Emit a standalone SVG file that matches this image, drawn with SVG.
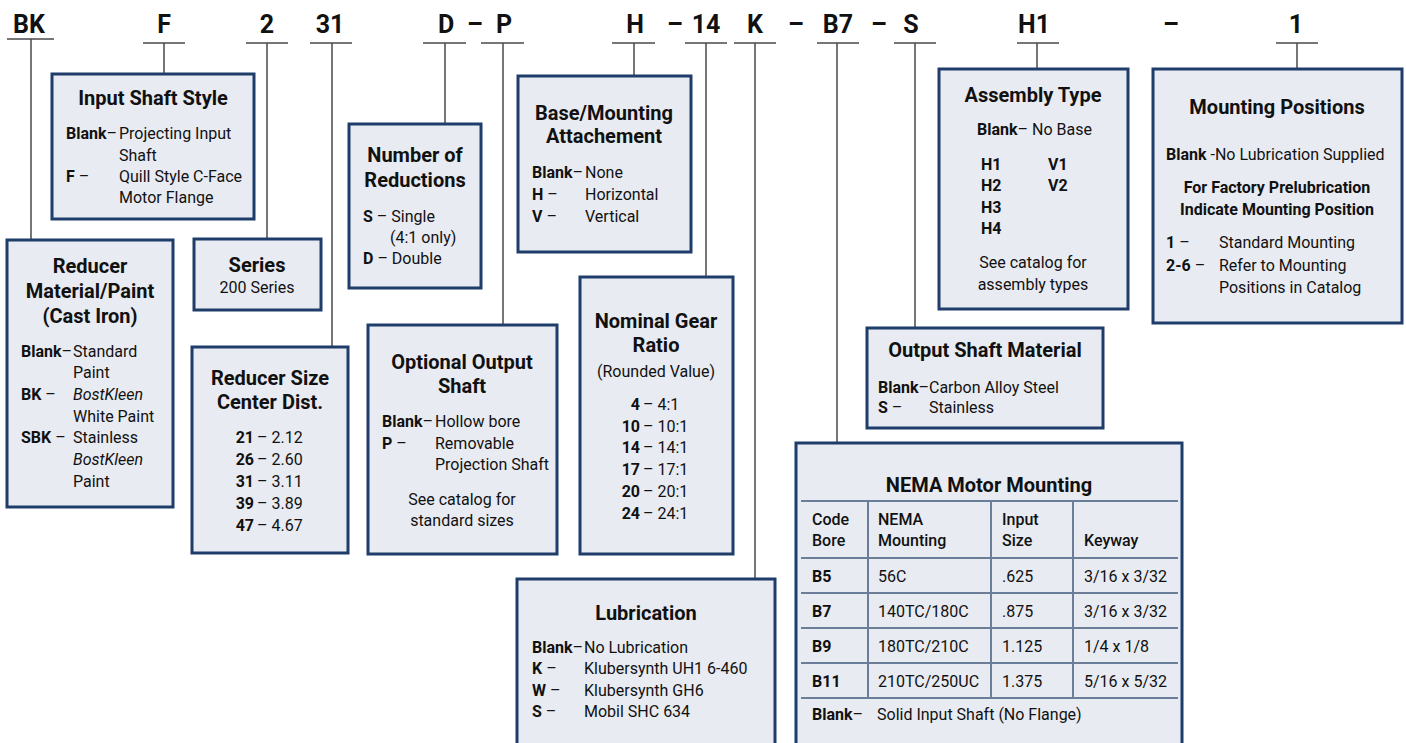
<svg xmlns="http://www.w3.org/2000/svg" width="1406" height="743" viewBox="0 0 1406 743">
<style>
.box{fill:#e8ebf1;stroke:#1f3d6b;stroke-width:3}
.ln{stroke:#4a4a4a;stroke-width:1.5;fill:none}
.grid{stroke:#6a7d99;stroke-width:2;fill:none}
text{font-family:Roboto,"Liberation Sans",sans-serif;fill:#111}
.h{font-size:25px;font-weight:bold;text-anchor:middle}
.ti{font-size:20px;font-weight:bold;text-anchor:middle}
.it{font-size:16px}
.b{font-weight:bold}
.m{font-weight:500}
.c{text-anchor:middle}
.e{text-anchor:end}
.i{font-style:italic}
</style>
<rect width="1406" height="743" fill="#fff"/>
<g id="code">
<text class="h" x="29" y="33">BK</text>
<text class="h" x="164" y="33">F</text>
<text class="h" x="267" y="33">2</text>
<text class="h" x="330" y="33">31</text>
<text class="h" x="446" y="33">D</text>
<text class="h" x="475" y="33">–</text>
<text class="h" x="504" y="33">P</text>
<text class="h" x="635" y="33">H</text>
<text class="h" x="675" y="33">–</text>
<text class="h" x="706" y="33">14</text>
<text class="h" x="755" y="33">K</text>
<text class="h" x="796" y="33">–</text>
<text class="h" x="838" y="33">B7</text>
<text class="h" x="879" y="33">–</text>
<text class="h" x="911" y="33">S</text>
<text class="h" x="1034" y="33">H1</text>
<text class="h" x="1171" y="33">–</text>
<text class="h" x="1296" y="33">1</text>
<path class="ln" d="M7 39H54M143 43H185M246 43H288M310 43H352M423 43H466M481 43H524M612 43H655M685 43H727M734 43H776M817 43H859M894 43H936M1017 43H1059M1276 43H1318"/>
</g>
<g id="connectors">
<path class="ln" d="M31 39V240M164 43V74M267 43V239M332 43V347M445 43V124M503 43V325M634 43V76M706 43V277M755 43V579M837 43V443M915 43V328M1037 43V69M1297 43V69"/>
</g>
<g id="input-shaft-style">
<rect class="box" x="52" y="74" width="202" height="145"/>
<text class="ti" x="153" y="105">Input Shaft Style</text>
<text class="it" x="66" y="139"><tspan class="b">Blank</tspan>–</text>
<text class="it" x="119" y="139">Projecting Input</text>
<text class="it" x="119" y="161">Shaft</text>
<text class="it" x="66" y="182"><tspan class="b">F</tspan> –</text>
<text class="it" x="119" y="182">Quill Style C-Face</text>
<text class="it" x="119" y="203">Motor Flange</text>
</g>
<g id="reducer-material">
<rect class="box" x="7" y="240" width="166" height="267"/>
<text class="ti" x="90" y="273">Reducer</text>
<text class="ti" x="90" y="298">Material/Paint</text>
<text class="ti" x="90" y="323">(Cast Iron)</text>
<text class="it" x="21" y="357"><tspan class="b">Blank</tspan>–</text>
<text class="it" x="73" y="357">Standard</text>
<text class="it" x="73" y="378">Paint</text>
<text class="it" x="21" y="400"><tspan class="b">BK</tspan> –</text>
<text class="it i" x="73" y="400">BostKleen</text>
<text class="it" x="73" y="422">White Paint</text>
<text class="it" x="21" y="443"><tspan class="b">SBK</tspan> –</text>
<text class="it" x="73" y="443">Stainless</text>
<text class="it i" x="73" y="465">BostKleen</text>
<text class="it" x="73" y="487">Paint</text>
</g>
<g id="series">
<rect class="box" x="194" y="239" width="127" height="71"/>
<text class="ti" x="257" y="272">Series</text>
<text class="it c" x="257" y="293">200 Series</text>
</g>
<g id="reducer-size">
<rect class="box" x="192" y="347" width="156" height="206"/>
<text class="ti" x="270" y="385">Reducer Size</text>
<text class="ti" x="270" y="409">Center Dist.</text>
<text class="it b e" x="254" y="443">21</text><text class="it" x="257" y="443">– 2.12</text>
<text class="it b e" x="254" y="465">26</text><text class="it" x="257" y="465">– 2.60</text>
<text class="it b e" x="254" y="487">31</text><text class="it" x="257" y="487">– 3.11</text>
<text class="it b e" x="254" y="509">39</text><text class="it" x="257" y="509">– 3.89</text>
<text class="it b e" x="254" y="531">47</text><text class="it" x="257" y="531">– 4.67</text>
</g>
<g id="number-of-reductions">
<rect class="box" x="349" y="124" width="132" height="164"/>
<text class="ti" x="415" y="162">Number of</text>
<text class="ti" x="415" y="187">Reductions</text>
<text class="it" x="363" y="222"><tspan class="b">S</tspan> – Single</text>
<text class="it" x="390" y="243">(4:1 only)</text>
<text class="it" x="363" y="264"><tspan class="b">D</tspan> – Double</text>
</g>
<g id="base-mounting">
<rect class="box" x="518" y="76" width="173" height="176"/>
<text class="ti" x="604" y="120">Base/Mounting</text>
<text class="ti" x="604" y="143">Attachement</text>
<text class="it" x="532" y="178"><tspan class="b">Blank</tspan>–</text>
<text class="it" x="585" y="178">None</text>
<text class="it" x="532" y="200"><tspan class="b">H</tspan> –</text>
<text class="it" x="585" y="200">Horizontal</text>
<text class="it" x="532" y="222"><tspan class="b">V</tspan> –</text>
<text class="it" x="585" y="222">Vertical</text>
</g>
<g id="optional-output-shaft">
<rect class="box" x="368" y="325" width="189" height="229"/>
<text class="ti" x="462" y="369">Optional Output</text>
<text class="ti" x="462" y="393">Shaft</text>
<text class="it" x="382" y="427"><tspan class="b">Blank</tspan>–</text>
<text class="it" x="435" y="427">Hollow bore</text>
<text class="it" x="382" y="449"><tspan class="b">P</tspan> –</text>
<text class="it" x="435" y="449">Removable</text>
<text class="it" x="435" y="470">Projection Shaft</text>
<text class="it c" x="462" y="505">See catalog for</text>
<text class="it c" x="462" y="526">standard sizes</text>
</g>
<g id="nominal-gear-ratio">
<rect class="box" x="580" y="277" width="153" height="277"/>
<text class="ti" x="656" y="328">Nominal Gear</text>
<text class="ti" x="656" y="352">Ratio</text>
<text class="it c" x="656" y="377">(Rounded Value)</text>
<text class="it b e" x="640" y="410">4</text><text class="it" x="643" y="410">– 4:1</text>
<text class="it b e" x="640" y="432">10</text><text class="it" x="643" y="432">– 10:1</text>
<text class="it b e" x="640" y="453">14</text><text class="it" x="643" y="453">– 14:1</text>
<text class="it b e" x="640" y="475">17</text><text class="it" x="643" y="475">– 17:1</text>
<text class="it b e" x="640" y="497">20</text><text class="it" x="643" y="497">– 20:1</text>
<text class="it b e" x="640" y="519">24</text><text class="it" x="643" y="519">– 24:1</text>
</g>
<g id="lubrication">
<rect class="box" x="517" y="579" width="258" height="172"/>
<text class="ti" x="646" y="620">Lubrication</text>
<text class="it" x="532" y="653"><tspan class="b">Blank</tspan>–</text>
<text class="it" x="584" y="653">No Lubrication</text>
<text class="it" x="532" y="674"><tspan class="b">K</tspan> –</text>
<text class="it" x="584" y="674">Klubersynth UH1 6-460</text>
<text class="it" x="532" y="696"><tspan class="b">W</tspan> –</text>
<text class="it" x="584" y="696">Klubersynth GH6</text>
<text class="it" x="532" y="717"><tspan class="b">S</tspan> –</text>
<text class="it" x="584" y="717">Mobil SHC 634</text>
</g>
<g id="nema-motor-mounting">
<rect class="box" x="796" y="443" width="386" height="308"/>
<text class="ti" x="989" y="492">NEMA Motor Mounting</text>
<path class="grid" d="M801 501H1178M801 558H1178M801 593H1178M801 628H1178M801 663H1178M801 698H1178M868 501V698M991 501V698M1073 501V698"/>
<text class="it m" x="812" y="525">Code</text>
<text class="it m" x="812" y="546">Bore</text>
<text class="it m" x="878" y="525">NEMA</text>
<text class="it m" x="878" y="546">Mounting</text>
<text class="it m" x="1002" y="525">Input</text>
<text class="it m" x="1002" y="546">Size</text>
<text class="it m" x="1084" y="546">Keyway</text>
<text class="it b" x="812" y="582">B5</text><text class="it" x="878" y="582">56C</text><text class="it" x="1002" y="582">.625</text><text class="it" x="1084" y="582">3/16 x 3/32</text>
<text class="it b" x="812" y="617">B7</text><text class="it" x="878" y="617">140TC/180C</text><text class="it" x="1002" y="617">.875</text><text class="it" x="1084" y="617">3/16 x 3/32</text>
<text class="it b" x="812" y="652">B9</text><text class="it" x="878" y="652">180TC/210C</text><text class="it" x="1002" y="652">1.125</text><text class="it" x="1084" y="652">1/4 x 1/8</text>
<text class="it b" x="812" y="687">B11</text><text class="it" x="878" y="687">210TC/250UC</text><text class="it" x="1002" y="687">1.375</text><text class="it" x="1084" y="687">5/16 x 5/32</text>
<text class="it" x="812" y="720"><tspan class="b">Blank</tspan>–</text>
<text class="it" x="877" y="720">Solid Input Shaft (No Flange)</text>
</g>
<g id="output-shaft-material">
<rect class="box" x="867" y="328" width="236" height="100"/>
<text class="ti" x="985" y="357">Output Shaft Material</text>
<text class="it" x="878" y="393"><tspan class="b">Blank</tspan>–</text>
<text class="it" x="929" y="393">Carbon Alloy Steel</text>
<text class="it" x="878" y="413"><tspan class="b">S</tspan> –</text>
<text class="it" x="929" y="413">Stainless</text>
</g>
<g id="assembly-type">
<rect class="box" x="939" y="69" width="189" height="240"/>
<text class="ti" x="1033" y="102">Assembly Type</text>
<text class="it" x="977" y="135"><tspan class="b">Blank</tspan>– No Base</text>
<text class="it b" x="981" y="170">H1</text>
<text class="it b" x="981" y="191">H2</text>
<text class="it b" x="981" y="213">H3</text>
<text class="it b" x="981" y="234">H4</text>
<text class="it b" x="1048" y="170">V1</text>
<text class="it b" x="1048" y="191">V2</text>
<text class="it c" x="1033" y="268">See catalog for</text>
<text class="it c" x="1033" y="290">assembly types</text>
</g>
<g id="mounting-positions">
<rect class="box" x="1153" y="69" width="249" height="254"/>
<text class="ti" x="1277" y="114">Mounting Positions</text>
<text class="it" x="1166" y="160"><tspan class="b">Blank</tspan> -No Lubrication Supplied</text>
<text class="it b c" x="1277" y="193">For Factory Prelubrication</text>
<text class="it b c" x="1277" y="215">Indicate Mounting Position</text>
<text class="it" x="1166" y="248"><tspan class="b">1</tspan> –</text>
<text class="it" x="1219" y="248">Standard Mounting</text>
<text class="it" x="1166" y="271"><tspan class="b">2-6</tspan> –</text>
<text class="it" x="1219" y="271">Refer to Mounting</text>
<text class="it" x="1219" y="293">Positions in Catalog</text>
</g>
</svg>
